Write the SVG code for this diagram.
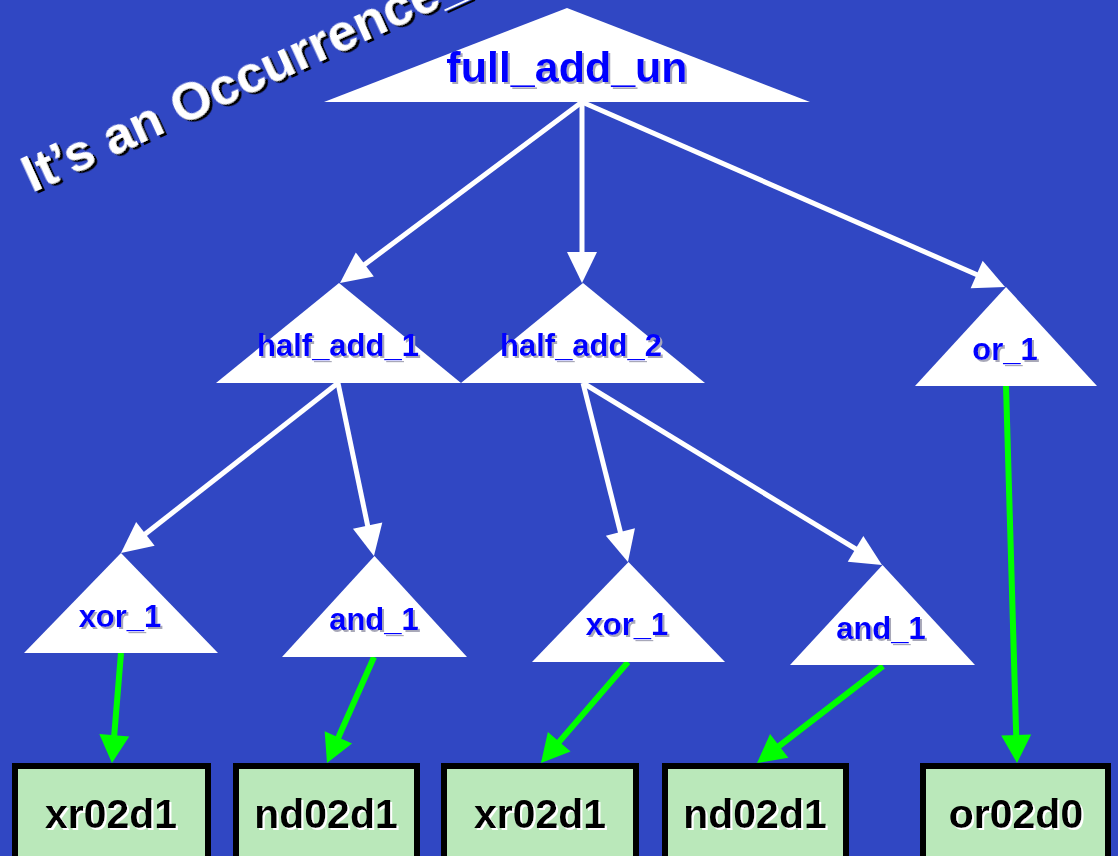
<svg xmlns="http://www.w3.org/2000/svg" width="1118" height="856" viewBox="0 0 1118 856">
  <defs>
    <style>
      .tri { fill: #ffffff; }
      .lbl { font-family: "Liberation Sans", Arial, sans-serif; font-weight: bold; fill: #0000ff; text-anchor: middle; filter: url(#shGray); }
      .cell rect { fill: #bae8ba; stroke: #000000; stroke-width: 6; }
      .cell text { font-family: "Liberation Sans", Arial, sans-serif; font-weight: bold; font-size: 41px; fill: #000000; text-anchor: middle; filter: url(#shWhite); }
      .wire { fill: none; stroke: #ffffff; stroke-width: 5; marker-end: url(#headWhite); }
      .map { fill: none; stroke: #00ff00; stroke-width: 6; marker-end: url(#headGreen); }
      .title { font-family: "Liberation Sans", Arial, sans-serif; font-weight: bold; font-size: 52px; fill: #ffffff; filter: url(#shBlack); }
    </style>
    <filter id="shGray" x="-10%" y="-20%" width="130%" height="150%">
      <feDropShadow dx="2" dy="2" stdDeviation="0.6" flood-color="#a8a8b8" flood-opacity="1"/>
    </filter>
    <filter id="shWhite" x="-10%" y="-20%" width="130%" height="150%">
      <feDropShadow dx="2" dy="2" stdDeviation="0.3" flood-color="#ffffff" flood-opacity="1"/>
    </filter>
    <filter id="shBlack" x="-10%" y="-20%" width="130%" height="150%">
      <feDropShadow dx="2" dy="3" stdDeviation="0.5" flood-color="#000000" flood-opacity="1"/>
    </filter>
    <marker id="headWhite" markerUnits="userSpaceOnUse" markerWidth="32" markerHeight="32" refX="16" refY="15" orient="auto" overflow="visible">
      <path d="M0,0 L31,15 L0,30 Z" fill="#ffffff"/>
    </marker>
    <marker id="headGreen" markerUnits="userSpaceOnUse" markerWidth="30" markerHeight="32" refX="14" refY="15" orient="auto" overflow="visible">
      <path d="M0,0 L28,15 L0,30 Z" fill="#00ff00"/>
    </marker>
  </defs>

  <!-- backdrop -->
  <rect x="0" y="0" width="1118" height="856" fill="#3047c3"/>

  <!-- slanted heading, running off the top edge -->
  <text class="title" x="32" y="193" transform="rotate(-24.5 32 193)">It’s an Occurrence_</text>

  <!-- hierarchy edges -->
  <g id="connectors">
    <line class="wire" x1="582" y1="102" x2="352.0" y2="274.0"/>
    <line class="wire" x1="582" y1="102" x2="582" y2="268"/>
    <line class="wire" x1="582" y1="102" x2="991.3" y2="281.0"/>
    <line class="wire" x1="338" y1="383" x2="132.8" y2="543.8"/>
    <line class="wire" x1="338" y1="383" x2="370.9" y2="541.3"/>
    <line class="wire" x1="583" y1="383" x2="624.3" y2="547.5"/>
    <line class="wire" x1="583" y1="383" x2="869.2" y2="557.2"/>
    <line class="map" x1="121" y1="653" x2="113.1" y2="749.1"/>
    <line class="map" x1="374" y1="657" x2="332.7" y2="750.2"/>
    <line class="map" x1="628" y1="662" x2="550.1" y2="752.4"/>
    <line class="map" x1="883" y1="666" x2="768.1" y2="754.5"/>
    <line class="map" x1="1006" y1="386" x2="1016.6" y2="749"/>
  </g>

  <!-- occurrence nodes -->
  <g id="full_add_un">
    <polygon class="tri" points="567,8 810,102 324,102"/>
    <text class="lbl" x="567" y="82" font-size="43">full_add_un</text>
  </g>
  <g id="half_add_1">
    <polygon class="tri" points="339,283 461,383 216,383"/>
    <text class="lbl" x="338" y="356" font-size="31">half_add_1</text>
  </g>
  <g id="half_add_2">
    <polygon class="tri" points="583,283 705,383 461,383"/>
    <text class="lbl" x="581" y="356" font-size="31">half_add_2</text>
  </g>
  <g id="or_1">
    <polygon class="tri" points="1006,287 1097,386 915,386"/>
    <text class="lbl" x="1005" y="360" font-size="31">or_1</text>
  </g>
  <g id="xor_1_a">
    <polygon class="tri" points="121,553 218,653 24,653"/>
    <text class="lbl" x="120" y="627" font-size="31">xor_1</text>
  </g>
  <g id="and_1_a">
    <polygon class="tri" points="374.5,556 467,657 282,657"/>
    <text class="lbl" x="374" y="630" font-size="31">and_1</text>
  </g>
  <g id="xor_1_b">
    <polygon class="tri" points="628.5,562 725,662 532,662"/>
    <text class="lbl" x="627" y="635" font-size="31">xor_1</text>
  </g>
  <g id="and_1_b">
    <polygon class="tri" points="882.5,565 975,665 790,665"/>
    <text class="lbl" x="881" y="639" font-size="31">and_1</text>
  </g>

  <!-- library cells -->
  <g id="cell_xr02d1_a" class="cell">
    <rect x="15" y="766" width="193" height="100"/>
    <text x="111" y="828">xr02d1</text>
  </g>
  <g id="cell_nd02d1_a" class="cell">
    <rect x="236" y="766" width="181" height="100"/>
    <text x="326" y="828">nd02d1</text>
  </g>
  <g id="cell_xr02d1_b" class="cell">
    <rect x="444" y="766" width="192" height="100"/>
    <text x="540" y="828">xr02d1</text>
  </g>
  <g id="cell_nd02d1_b" class="cell">
    <rect x="665" y="766" width="181" height="100"/>
    <text x="755" y="828">nd02d1</text>
  </g>
  <g id="cell_or02d0" class="cell">
    <rect x="923" y="766" width="185" height="100"/>
    <text x="1016" y="828">or02d0</text>
  </g>
</svg>
